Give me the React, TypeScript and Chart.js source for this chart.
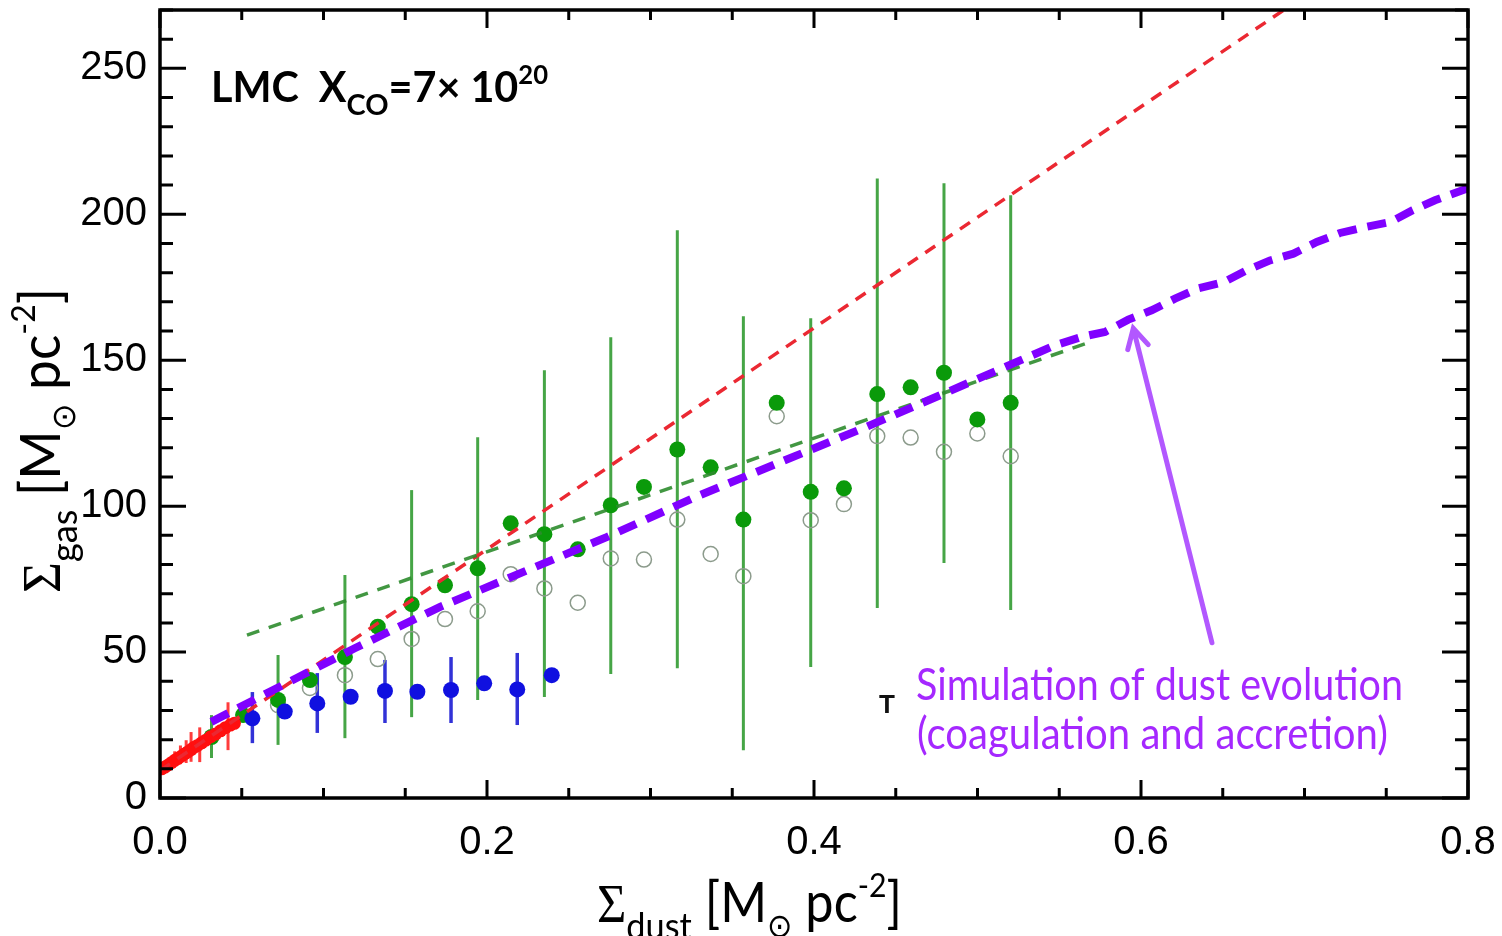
import React, { useEffect, useRef } from 'react';
import { Chart, registerables } from 'chart.js';

Chart.register(...registerables);

// ---------- axis ticks ----------
const xTickValues = [0, 0.2, 0.4, 0.6, 0.8];
const xTickLabels = ['0.0', '0.2', '0.4', '0.6', '0.8'];
const yTickValues = [0, 50, 100, 150, 200, 250];
const yTickLabels = ['0', '50', '100', '150', '200', '250'];

// ---------- green filled points (gas incl. CO) ----------
const greenX = [0.0315, 0.0508, 0.0722, 0.0917, 0.1131, 0.1332, 0.1539, 0.1743, 0.1943, 0.2145, 0.2351, 0.2555, 0.2757, 0.296, 0.3164, 0.3368, 0.3568, 0.3772, 0.398, 0.4183, 0.4387, 0.4591, 0.4795, 0.4999, 0.5203];
const greenY = [20.9, 28.4, 33.6, 40.4, 48.3, 58.7, 66.4, 72.9, 78.7, 94.1, 90.4, 85.2, 100.3, 106.6, 119.4, 113.3, 95.4, 135.4, 104.9, 106.1, 138.4, 140.7, 145.7, 129.7, 135.4];

// green error bars
const greenErrX = [0.0315, 0.0722, 0.1131, 0.1539, 0.1943, 0.2351, 0.2757, 0.3164, 0.3568, 0.398, 0.4387, 0.4795, 0.5203];
const greenErrLo = [13.7, 18.2, 20.5, 27.7, 33.6, 34.6, 42.5, 44.5, 16.4, 44.9, 65.1, 80.5, 64.4];
const greenErrHi = [28.4, 49.0, 76.4, 105.5, 123.6, 146.6, 157.9, 194.5, 165.1, 164.4, 212.3, 210.6, 206.5];

// ---------- open circles ----------
const openX = [0.0722, 0.0917, 0.1131, 0.1332, 0.1539, 0.1743, 0.1943, 0.2145, 0.2351, 0.2555, 0.2757, 0.296, 0.3164, 0.3368, 0.3568, 0.3772, 0.398, 0.4183, 0.4387, 0.4591, 0.4795, 0.4999, 0.5203];
const openY = [31.8, 37.7, 42.1, 47.6, 54.5, 61.3, 64.0, 76.7, 71.8, 66.9, 82.1, 81.7, 95.4, 83.6, 76.0, 130.8, 95.2, 100.7, 124.0, 123.5, 118.6, 124.9, 117.1];

// ---------- blue points ----------
const blueX = [0.0565, 0.0763, 0.0962, 0.1166, 0.1376, 0.1574, 0.178, 0.1983, 0.2185, 0.2396];
const blueY = [27.3, 29.6, 32.4, 34.7, 36.7, 36.4, 37.0, 39.3, 37.2, 42.1];
const blueErrX = [0.0565, 0.0962, 0.1376, 0.178, 0.2185];
const blueErrLo = [18.8, 22.3, 25.7, 25.7, 25.0];
const blueErrHi = [36.3, 42.8, 47.3, 48.3, 49.7];

// ---------- red points ----------
const redX = [0.001, 0.003, 0.005, 0.007, 0.009, 0.011, 0.013, 0.015, 0.017, 0.019, 0.021, 0.023, 0.0255, 0.028, 0.031, 0.034, 0.037, 0.040, 0.043, 0.0455];
const redY = [10.0, 10.6, 11.3, 12.1, 12.9, 13.6, 14.3, 15.1, 15.8, 16.6, 17.4, 18.0, 18.9, 19.8, 21.0, 21.9, 23.0, 24.1, 25.0, 25.6];
const redErrX = [0.009, 0.0125, 0.016, 0.019, 0.0243, 0.0416];
const redErrLo = [11.0, 11.6, 12.0, 12.4, 12.3, 16.4];
const redErrHi = [16.0, 18.0, 19.8, 22.6, 24.2, 32.8];

// ---------- fitted lines ----------
const redFitX = [0.0, 0.69];
const redFitY = [9.4, 271.0];
const greenFitX = [0.0532, 0.5668];
const greenFitY = [55.8, 155.8];

// ---------- simulation (purple) ----------
const simX = [0.0314, 0.0752, 0.1191, 0.1713, 0.2732, 0.3303, 0.4322, 0.4771, 0.5219, 0.5474, 0.5637, 0.578, 0.5922, 0.6065, 0.6208, 0.635, 0.6508, 0.6646, 0.6789, 0.6932, 0.7075, 0.7217, 0.7376, 0.7527, 0.7662, 0.7798, 0.8];
const simY = [26.1, 38.7, 51.3, 65.5, 89.4, 103.8, 127.2, 138.0, 148.9, 155.1, 158.0, 159.7, 163.9, 167.1, 171.1, 174.6, 176.8, 180.8, 184.2, 186.5, 190.5, 193.6, 195.7, 197.4, 201.4, 204.8, 208.9];

// ---------- annotations ----------
const arrowX = [0.6434, 0.5953];
const arrowY = [53.2, 160.9];
const markerX = [0.4446];
const markerY = [31.7];
const annotLines = ['Simulation of dust evolution', '(coagulation and accretion)'];

const SANS = "Lato, 'DejaVu Sans', sans-serif";

type Seg = { t: string; s?: number; dy?: number; f?: string };

function drawRich(
  ctx: CanvasRenderingContext2D,
  segs: Seg[],
  o: { x: number; y: number; size: number; family: string; weight?: string; color: string; width?: number; vscale?: number; rotate?: number }
) {
  const weight = o.weight ?? 'normal';
  const fontOf = (sg: Seg) => `${weight} ${o.size * (sg.s ?? 1)}px ${sg.f ?? o.family}`;
  ctx.save();
  let W = 0;
  const ws: number[] = [];
  for (const sg of segs) {
    ctx.font = fontOf(sg);
    const w = ctx.measureText(sg.t).width;
    ws.push(w);
    W += w;
  }
  const sx = o.width ? o.width / W : 1;
  ctx.translate(o.x, o.y);
  if (o.rotate) ctx.rotate(o.rotate);
  ctx.scale(sx, o.vscale ?? 1);
  ctx.fillStyle = o.color;
  ctx.textAlign = 'left';
  ctx.textBaseline = 'alphabetic';
  let cx = 0;
  segs.forEach((sg, i) => {
    ctx.font = fontOf(sg);
    ctx.fillText(sg.t, cx, (sg.dy ?? 0) * o.size);
    cx += ws[i];
  });
  ctx.restore();
}

const toPts = (xs: number[], ys: number[]) => xs.map((x, i) => ({ x, y: ys[i] }));

const decorPlugin = {
  id: 'decor',
  beforeDatasetsDraw(chart: any) {
    const ctx: CanvasRenderingContext2D = chart.ctx;
    const X = (v: number) => chart.scales.x.getPixelForValue(v);
    const Y = (v: number) => chart.scales.y.getPixelForValue(v);
    const { left, top, right, bottom } = chart.chartArea;
    ctx.save();
    ctx.beginPath();
    ctx.rect(left, top, right - left, bottom - top);
    ctx.clip();
    const drawErr = (xs: number[], lo: number[], hi: number[], color: string, w: number) => {
      ctx.strokeStyle = color;
      ctx.lineWidth = w;
      xs.forEach((x, i) => {
        ctx.beginPath();
        ctx.moveTo(X(x), Y(lo[i]));
        ctx.lineTo(X(x), Y(hi[i]));
        ctx.stroke();
      });
    };
    drawErr(greenErrX, greenErrLo, greenErrHi, 'rgb(70,165,70)', 3);
    drawErr(blueErrX, blueErrLo, blueErrHi, 'rgb(50,50,215)', 3.5);
    drawErr(redErrX, redErrLo, redErrHi, 'rgb(255,60,60)', 3);
    ctx.restore();
  },
  afterDatasetsDraw(chart: any) {
    const ctx: CanvasRenderingContext2D = chart.ctx;
    const xs = chart.scales.x;
    const ys = chart.scales.y;
    const X = (v: number) => xs.getPixelForValue(v);
    const Y = (v: number) => ys.getPixelForValue(v);
    const { left, top, right, bottom } = chart.chartArea;

    // arrow
    ctx.save();
    const x0 = X(arrowX[0]), y0 = Y(arrowY[0]), x1 = X(arrowX[1]), y1 = Y(arrowY[1]);
    ctx.strokeStyle = 'rgb(178,88,255)';
    ctx.lineWidth = 5;
    ctx.lineCap = 'round';
    ctx.beginPath();
    ctx.moveTo(x0, y0);
    ctx.lineTo(x1, y1);
    const ang = Math.atan2(y1 - y0, x1 - x0);
    const hl = 22;
    ctx.moveTo(x1 - hl * Math.cos(ang - 0.5), y1 - hl * Math.sin(ang - 0.5));
    ctx.lineTo(x1, y1);
    ctx.lineTo(x1 - hl * Math.cos(ang + 0.5), y1 - hl * Math.sin(ang + 0.5));
    ctx.stroke();
    ctx.restore();

    // small error-bar marker "T"
    ctx.save();
    ctx.fillStyle = '#111';
    ctx.font = "bold 26px 'Liberation Sans', sans-serif";
    ctx.textAlign = 'center';
    ctx.textBaseline = 'middle';
    ctx.fillText('T', X(markerX[0]), Y(markerY[0]));
    ctx.restore();

    // annotation text
    drawRich(ctx, [{ t: annotLines[0] }], { x: 916, y: 700, size: 42, family: SANS, color: 'rgb(165,40,255)', width: 487, vscale: 1.08 });
    drawRich(ctx, [{ t: annotLines[1] }], { x: 917, y: 749, size: 42, family: SANS, color: 'rgb(165,40,255)', width: 471, vscale: 1.08 });

    // top-left label
    drawRich(
      ctx,
      [
        { t: 'LMC  X' },
        { t: 'CO', s: 0.7, dy: 0.3 },
        { t: '=7× 10' },
        { t: '20', s: 0.62, dy: -0.42 },
      ],
      { x: 211, y: 102, size: 42, family: SANS, weight: 'bold', color: '#000', width: 337 }
    );

    // frame and ticks
    ctx.save();
    ctx.strokeStyle = '#000';
    ctx.lineWidth = 3;
    ctx.lineCap = 'butt';
    for (let i = 0; i <= 16; i++) {
      const px = X(i * 0.05);
      const L = i % 4 === 0 ? 18 : 10;
      ctx.beginPath();
      ctx.moveTo(px, bottom);
      ctx.lineTo(px, bottom - L);
      ctx.moveTo(px, top);
      ctx.lineTo(px, top + L);
      ctx.stroke();
    }
    for (let i = 0; i <= 27; i++) {
      const py = Y(i * 10);
      const L = i % 5 === 0 ? 26 : 13;
      ctx.beginPath();
      ctx.moveTo(left, py);
      ctx.lineTo(left + L, py);
      ctx.moveTo(right, py);
      ctx.lineTo(right - L, py);
      ctx.stroke();
    }
    ctx.lineWidth = 3.5;
    ctx.strokeRect(left, top, right - left, bottom - top);
    ctx.restore();

    // axis titles
    drawRich(
      ctx,
      [
        { t: 'Σ', f: "'Liberation Serif', serif" },
        { t: 'dust', s: 0.68, dy: 0.3 },
        { t: ' [M' },
        { t: '⊙', s: 0.6, dy: 0.28, f: "'DejaVu Sans', sans-serif" },
        { t: ' pc' },
        { t: '-2', s: 0.6, dy: -0.45 },
        { t: ']' },
      ],
      { x: 597, y: 922, size: 46, family: SANS, color: '#000', width: 305, vscale: 1.2 }
    );
    drawRich(
      ctx,
      [
        { t: 'Σ', f: "'Liberation Serif', serif" },
        { t: 'gas', s: 0.68, dy: 0.3 },
        { t: ' [M' },
        { t: '⊙', s: 0.6, dy: 0.28, f: "'DejaVu Sans', sans-serif" },
        { t: ' pc' },
        { t: '-2', s: 0.6, dy: -0.45 },
        { t: ']' },
      ],
      { x: 60, y: 593, size: 46, family: SANS, color: '#000', width: 305, vscale: 1.2, rotate: -Math.PI / 2 }
    );
  },
};

export default function App() {
  const ref = useRef<HTMLCanvasElement>(null);
  useEffect(() => {
    document.body.style.margin = '0';
    document.body.style.overflow = 'hidden';
    const canvas = ref.current!;
    const chart = new Chart(canvas, {
      type: 'scatter',
      data: {
        datasets: [
          {
            label: 'Simulation',
            data: toPts(simX, simY),
            showLine: true,
            borderColor: '#8000ff',
            borderWidth: 8,
            borderDash: [19, 11],
            borderCapStyle: 'butt',
            pointRadius: 0,
            tension: 0,
            order: 0,
          },
          {
            label: 'Green fit',
            data: toPts(greenFitX, greenFitY),
            showLine: true,
            borderColor: 'rgba(45,140,45,0.9)',
            borderWidth: 3.5,
            borderDash: [13, 10],
            pointRadius: 0,
            order: 1,
          },
          {
            label: 'Red fit',
            data: toPts(redFitX, redFitY),
            showLine: true,
            borderColor: 'rgb(235,40,50)',
            borderWidth: 3.5,
            borderDash: [12, 9],
            pointRadius: 0,
            order: 2,
          },
          {
            label: 'Red',
            data: toPts(redX, redY),
            pointRadius: 6.5,
            pointBackgroundColor: 'rgb(255,15,15)',
            pointBorderWidth: 0,
            order: 3,
          },
          {
            label: 'Blue',
            data: toPts(blueX, blueY),
            pointRadius: 8,
            pointBackgroundColor: 'rgb(16,16,224)',
            pointBorderWidth: 0,
            order: 4,
          },
          {
            label: 'Green',
            data: toPts(greenX, greenY),
            pointRadius: 8,
            pointBackgroundColor: 'rgb(10,154,10)',
            pointBorderWidth: 0,
            order: 5,
          },
          {
            label: 'Open',
            data: toPts(openX, openY),
            pointRadius: 7.5,
            pointBackgroundColor: 'rgba(0,0,0,0)',
            pointBorderColor: 'rgb(140,155,140)',
            pointBorderWidth: 1.5,
            order: 6,
          },
        ],
      },
      options: {
        animation: false,
        responsive: false,
        devicePixelRatio: 1,
        layout: { padding: { top: 10, right: 34, left: 0, bottom: 0 }, autoPadding: false },
        plugins: { legend: { display: false }, tooltip: { enabled: false } },
        events: [],
        scales: {
          x: {
            type: 'linear',
            min: 0,
            max: 0.8,
            grid: { display: false, drawTicks: false },
            border: { display: false },
            afterBuildTicks: (s: any) => {
              s.ticks = xTickValues.map((v) => ({ value: v }));
            },
            afterFit: (s: any) => {
              s.height = 138;
              s.paddingLeft = 0;
              s.paddingRight = 0;
            },
            ticks: {
              autoSkip: false,
              maxRotation: 0,
              padding: 21,
              color: '#000',
              font: { family: "'Liberation Sans', sans-serif", size: 40 },
              callback: (v: any) => xTickLabels[xTickValues.indexOf(Number(v))] ?? '',
            },
          },
          y: {
            type: 'linear',
            min: 0,
            max: 270,
            grid: { display: false, drawTicks: false },
            border: { display: false },
            afterBuildTicks: (s: any) => {
              s.ticks = yTickValues.map((v) => ({ value: v }));
            },
            afterFit: (s: any) => {
              s.width = 160;
              s.paddingTop = 0;
              s.paddingBottom = 0;
            },
            ticks: {
              autoSkip: false,
              padding: 13,
              color: '#000',
              font: { family: "'Liberation Sans', sans-serif", size: 40 },
              callback: (v: any) => yTickLabels[yTickValues.indexOf(Number(v))] ?? '',
            },
          },
        },
      },
      plugins: [decorPlugin],
    } as any);
    return () => chart.destroy();
  }, []);
  return (
    <div style={{ width: 1502, height: 936, background: '#fff', overflow: 'hidden' }}>
      <canvas ref={ref} width={1502} height={936} style={{ display: 'block' }} />
    </div>
  );
}
